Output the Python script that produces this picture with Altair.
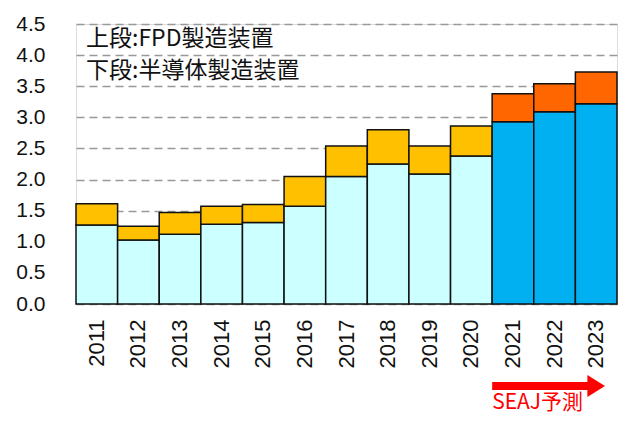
import altair as alt
import pandas as pd

years = ["2011", "2012", "2013", "2014", "2015", "2016", "2017",
         "2018", "2019", "2020", "2021", "2022", "2023"]
semi = [1.27, 1.03, 1.12, 1.28, 1.31, 1.57, 2.05, 2.25, 2.09, 2.38, 2.93, 3.09, 3.22]
fpd = [0.34, 0.22, 0.35, 0.29, 0.29, 0.48, 0.49, 0.55, 0.45, 0.48, 0.45, 0.45, 0.51]
forecast_years = ["2021", "2022", "2023"]
y_ticks = [0.0, 0.5, 1.0, 1.5, 2.0, 2.5, 3.0, 3.5, 4.0, 4.5]
legend_lines = ["上段:FPD製造装置", "下段:半導体製造装置"]
forecast_label = "SEAJ予測"

rows = []
for y, s, f in zip(years, semi, fpd):
    fc = y in forecast_years
    rows.append({"year": y, "value": s, "kind": "semi_fc" if fc else "semi", "ord": 0})
    rows.append({"year": y, "value": f, "kind": "fpd_fc" if fc else "fpd", "ord": 1})
df = pd.DataFrame(rows)

W, H = 541, 280
xscale = alt.Scale(domain=years, paddingInner=0, paddingOuter=0)

bars = alt.Chart(df).mark_bar(stroke="#111", strokeWidth=1.5).encode(
    x=alt.X("year:N", scale=xscale, sort=years,
            axis=alt.Axis(title=None, labelAngle=-90, labelFontSize=22,
                          labelFont="Liberation Sans", labelColor="#111",
                          ticks=False, tickSize=0, domain=False, labelPadding=15)),
    y=alt.Y("value:Q", stack="zero",
            scale=alt.Scale(domain=[0, 4.5], nice=False),
            axis=alt.Axis(title=None, values=y_ticks, format=".1f",
                          labelFontSize=21, labelFont="Liberation Sans", labelColor="#111",
                          ticks=False, tickSize=0, domain=False, labelPadding=31,
                          grid=True, gridColor="#999", gridDash=[8, 5], gridWidth=1.3)),
    color=alt.Color("kind:N",
                    scale=alt.Scale(domain=["semi", "fpd", "semi_fc", "fpd_fc"],
                                    range=["#CCFFFF", "#FFC000", "#00B0F0", "#FF6600"]),
                    legend=None),
    order=alt.Order("ord:Q"),
)

leg_df = pd.DataFrame({"t": legend_lines, "py": [15, 47]})
legend_text = alt.Chart(leg_df).mark_text(
    align="left", baseline="middle", font="Noto Sans CJK JP", fontSize=23, color="#111"
).encode(x=alt.value(10), y=alt.Y("py:Q", scale=None), text="t:N")

arrow_df = pd.DataFrame({"a": ["2021"], "b": ["2023"]})
arrow_shaft = alt.Chart(arrow_df).mark_rule(color="#FF0000", strokeWidth=8).encode(
    x=alt.X("a:N", scale=xscale, bandPosition=0),
    x2=alt.X2("b:N", bandPosition=0.35),
    y=alt.value(H + 82),
)
arrow_head = alt.Chart(arrow_df).mark_point(
    shape="M-0.8,-1L0.8,0L-0.8,1Z", filled=True, color="#FF0000", opacity=1,
    size=484, strokeWidth=0
).encode(
    x=alt.X("b:N", scale=xscale, bandPosition=0.5),
    y=alt.value(H + 82),
)
fc_text = alt.Chart(pd.DataFrame({"a": ["2021"], "t": [forecast_label]})).mark_text(
    align="left", baseline="middle", font="Noto Sans CJK JP", fontSize=21, color="#FF0000"
).encode(
    x=alt.X("a:N", scale=xscale, bandPosition=0),
    y=alt.value(H + 99),
    text="t:N",
)

chart = alt.layer(bars, legend_text, arrow_shaft, arrow_head, fc_text).properties(
    width=W, height=H,
    autosize=alt.AutoSizeParams(type="none"),
    padding={"left": 68, "top": 16, "right": 5, "bottom": 112},
).configure_view(stroke="#333", strokeWidth=2).configure(background="white")

chart.save("out.html", embed_options={"renderer": "svg", "actions": False})
